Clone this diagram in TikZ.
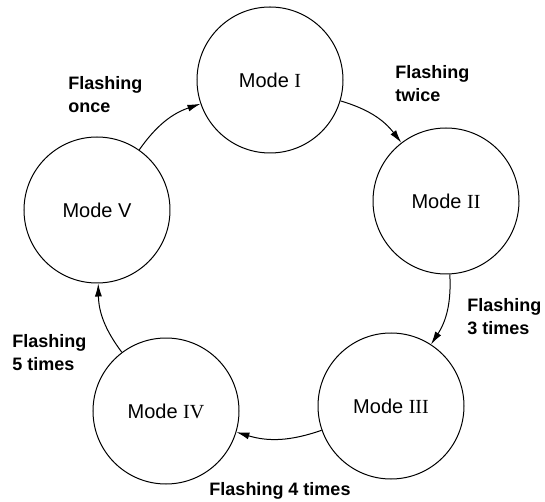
\documentclass[tikz,border=0pt]{standalone}
\usepackage{fontspec}
\setmainfont{Liberation Serif}
\setsansfont{Liberation Sans}
\usetikzlibrary{arrows.meta,positioning}

\begin{document}
\begin{tikzpicture}[
  x=0.5pt, y=0.5pt,
  font=\sffamily,
  mode/.style={draw, circle, line width=0.5pt, minimum size=73pt, inner sep=0pt},
  flash/.style={font=\fontsize{9}{11.5}\selectfont\sffamily\bfseries, align=left, inner sep=0pt},
  arrow/.style={-{Latex[length=6.5pt,width=3.5pt]}, line width=0.5pt, bend left=18}
]
\useasboundingbox (-274,-240) rectangle (271,262);
\node[mode] (m1) at (-4,182) {Mode {\rmfamily I}};
\node[mode] (m2) at (172,61) {Mode {\rmfamily II}};
\node[mode] (m3) at (117,-144) {Mode {\rmfamily III}};
\node[mode] (m4) at (-108,-149) {Mode {\rmfamily IV}};
\node[mode] (m5) at (-177,52) {Mode V};
\node[flash, anchor=north west] (once) at (-206,186) {Flashing\\once};
\node[flash, anchor=north west] (twice) at (121,197) {Flashing\\twice};
\node[flash, anchor=north west] (three) at (193,-36) {Flashing\\3 times};
\node[flash, anchor=north] (four) at (6,-220) {Flashing 4 times};
\node[flash, anchor=north west] (five) at (-262,-72) {Flashing\\5 times};
\draw[arrow] (m5) to (m1);
\draw[arrow] (m1) to (m2);
\draw[arrow] (m2) to (m3);
\draw[arrow] (m3) to (m4);
\draw[arrow] (m4) to (m5);
\end{tikzpicture}
\end{document}
